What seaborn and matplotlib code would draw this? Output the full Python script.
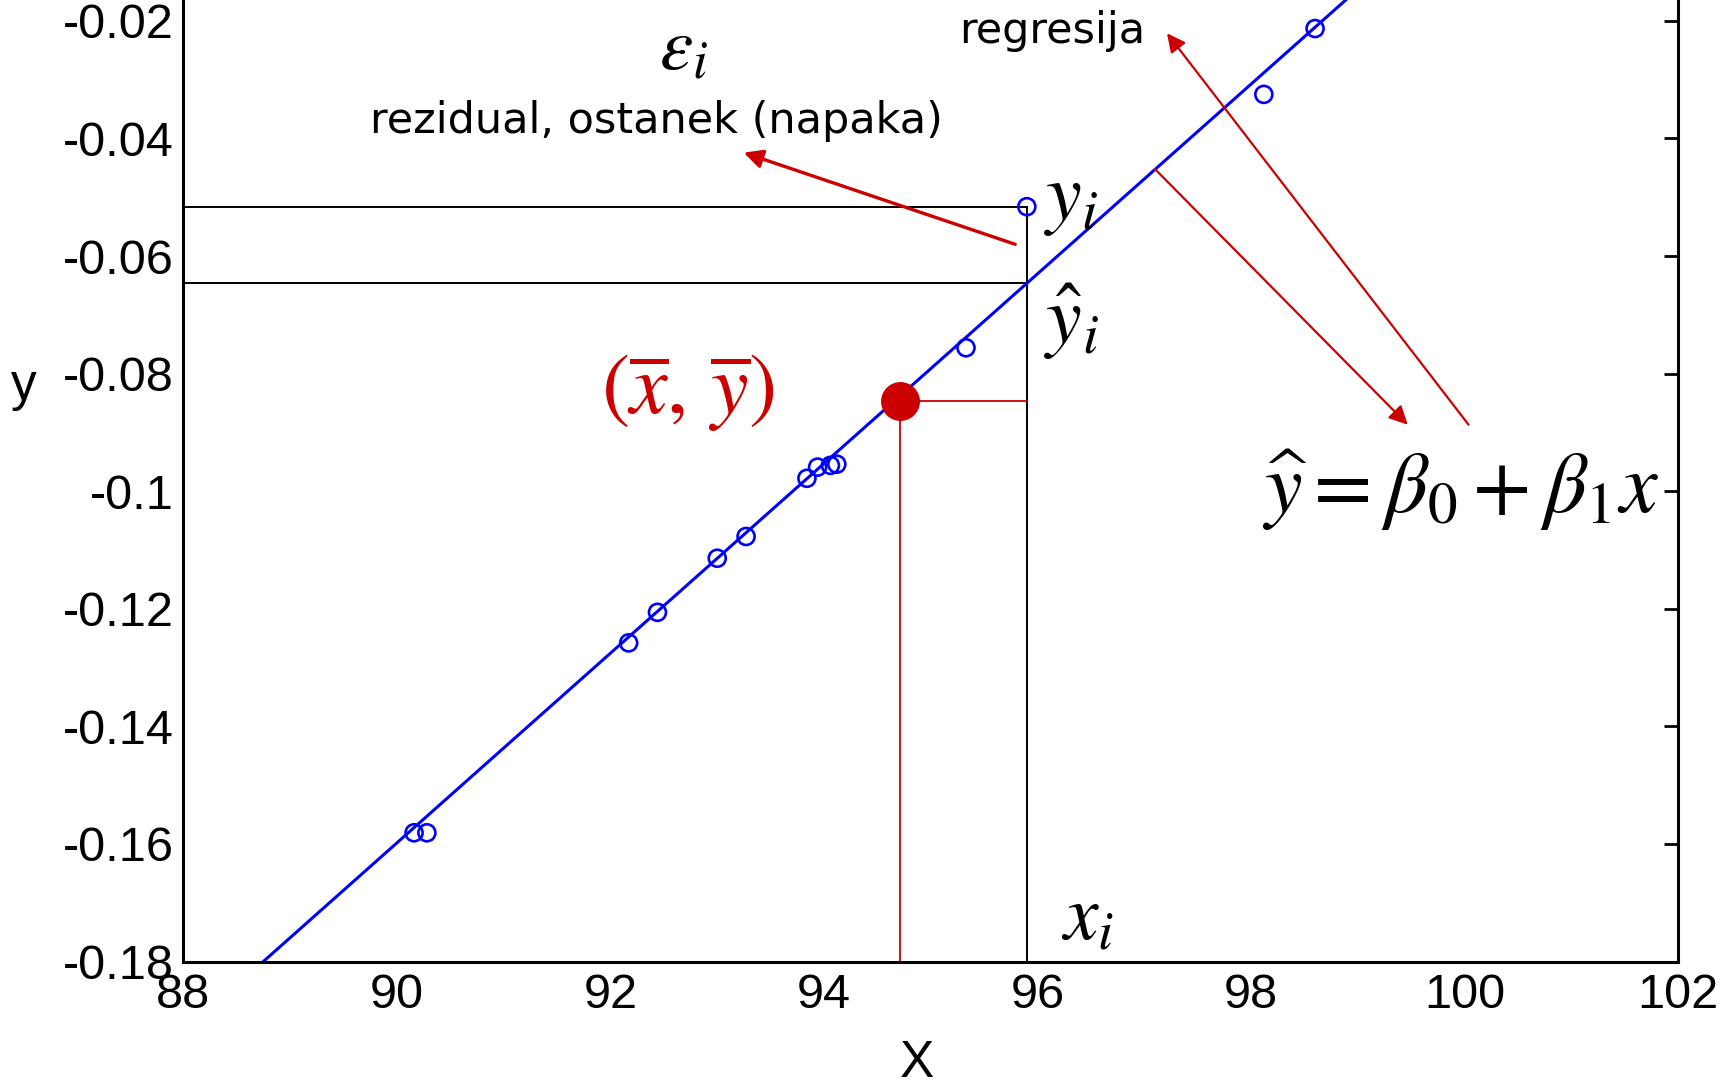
import numpy as np
import pandas as pd
import matplotlib
matplotlib.use("Agg")
import matplotlib.pyplot as plt
import seaborn as sns

# Observed sample
x_obs = [90.16, 90.28, 92.17, 92.44, 93.00, 93.27, 93.84, 93.94, 94.06, 94.12,
         95.33, 95.90, 98.12, 98.60]
y_obs = [-0.1581, -0.1581, -0.1258, -0.1206, -0.1114, -0.1077, -0.0978, -0.0959,
         -0.0956, -0.0954, -0.0756, -0.0516, -0.0325, -0.0213]

# Regression line  y = beta0 + beta1 * x
beta0 = -1.6115
beta1 = 0.01613

# Highlighted observation i and the mean point
x_i = 95.90
y_i = -0.0516
x_mean = 94.71
y_mean = -0.0847

# Axis ticks
x_ticks = [88, 90, 92, 94, 96, 98, 100, 102]
y_ticks = [-0.18, -0.16, -0.14, -0.12, -0.10, -0.08, -0.06, -0.04, -0.02]
y_tick_labels = ["-0.18", "-0.16", "-0.14", "-0.12", "-0.1", "-0.08", "-0.06", "-0.04", "-0.02"]
x_tick_labels = [str(v) for v in x_ticks]

sns.set_style("white")
plt.rcParams["font.family"] = ["Liberation Sans", "DejaVu Sans"]
plt.rcParams["mathtext.fontset"] = "stix"
plt.rcParams["text.color"] = "black"
plt.rcParams["axes.labelcolor"] = "black"
plt.rcParams["xtick.color"] = "black"
plt.rcParams["ytick.color"] = "black"

BLUE = "#0000FF"
RED = "#CC0000"

fig = plt.figure(figsize=(17.23, 10.86), dpi=100)
x_lim = (88, 102)
y_lim = (-0.18, -0.01)
ax = fig.add_axes([0.1065, 0.1146, 0.8674, 0.9203])
ax.set_xlim(*x_lim)
ax.set_ylim(*y_lim)

# Regression line across the whole x range
line_x = np.array(x_lim, dtype=float)
line_df = pd.DataFrame({"x": line_x, "y": beta0 + beta1 * line_x})
sns.lineplot(data=line_df, x="x", y="y", color=BLUE, linewidth=2.2, ax=ax, zorder=2)

# Sample points as open circles
obs_df = pd.DataFrame({"x": x_obs, "y": y_obs})
sns.scatterplot(data=obs_df, x="x", y="y", marker="o", s=150, facecolor="none",
                edgecolor=BLUE, linewidth=1.9, ax=ax, zorder=3)
for coll in ax.collections:
    coll.set_facecolor("none")

# Guide lines for observation i
y_hat_i = beta0 + beta1 * x_i
ax.plot([x_lim[0], x_i], [y_i, y_i], color="black", lw=1.4, zorder=1)
ax.plot([x_lim[0], x_i], [y_hat_i, y_hat_i], color="black", lw=1.4, zorder=1)
ax.plot([x_i, x_i], [y_lim[0], y_i], color="black", lw=1.4, zorder=1)

# Mean point with its guide lines
ax.plot([x_mean, x_i], [y_mean, y_mean], color=RED, lw=1.3, zorder=1)
ax.plot([x_mean, x_mean], [y_lim[0], y_mean], color=RED, lw=1.3, zorder=1)
ax.plot([x_mean], [y_mean], marker="o", markersize=27, color=RED, zorder=4)

# Axes styling
ax.set_xticks(x_ticks)
ax.set_xticklabels(x_tick_labels)
ax.set_yticks(y_ticks)
ax.set_yticklabels(y_tick_labels)
ax.tick_params(axis="both", direction="in", length=10, width=2, labelsize=35,
               colors="black")
ax.tick_params(axis="y", right=True, pad=7)
ax.tick_params(axis="x", top=True, pad=8)
for sp in ax.spines.values():
    sp.set_linewidth(2.2)
    sp.set_color("black")
    sp.set_visible(True)

ax.set_xlabel("X", fontsize=37)
ax.set_ylabel("y", fontsize=37, rotation=0)
ax.xaxis.set_label_coords(0.491, -0.102)
ax.xaxis.label.set_va("center")
ax.yaxis.set_label_coords(-0.107, 0.575)
ax.yaxis.label.set_va("center")
ax.yaxis.label.set_ha("center")

# Annotations
txt_font = ["DejaVu Sans"]
ax.text(92.43, -0.0370, "rezidual, ostanek (napaka)", fontsize=31, family=txt_font,
        ha="center", va="center")
ax.text(96.14, -0.0217, "regresija", fontsize=31, family=txt_font,
        ha="center", va="center")
ax.text(92.68, -0.0249, r"$\varepsilon_i$", fontsize=54, ha="center", va="center")
ax.text(96.06, -0.0505, r"$y_i$", fontsize=58, ha="left", va="center")
ax.text(96.06, -0.0712, r"$\hat{y}_i$", fontsize=58, ha="left", va="center")
ax.text(96.22, -0.1727, r"$x_i$", fontsize=56, ha="left", va="center")
ax.text(92.72, -0.0834, r"$(\overline{x},\,\overline{y})$", fontsize=61, color=RED,
        ha="center", va="center")
ax.text(98.10, -0.0998, r"$\widehat{y} = \beta_0 + \beta_1 x$", fontsize=61,
        ha="left", va="center")

arrow_kw = dict(arrowstyle="-|>", color=RED, shrinkA=0, shrinkB=0, mutation_scale=28)
ax.annotate("", xy=(93.248, -0.04241), xytext=(95.791, -0.05800),
            arrowprops=dict(arrow_kw, lw=2.4))
ax.annotate("", xy=(97.213, -0.02211), xytext=(100.038, -0.08869),
            arrowprops=dict(arrow_kw, lw=1.6))
ax.annotate("", xy=(99.468, -0.08869), xytext=(97.100, -0.04520),
            arrowprops=dict(arrow_kw, lw=1.6))

fig.savefig("out.png", dpi=100, facecolor="white")
